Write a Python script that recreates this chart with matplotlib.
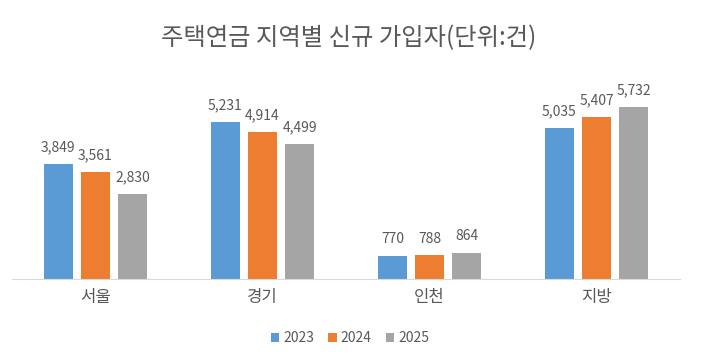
import matplotlib
matplotlib.use("Agg")
import matplotlib.pyplot as plt
import numpy as np

plt.rcParams['font.family'] = ['Noto Sans CJK KR', 'DejaVu Sans']

# data
regions = ['서울', '경기', '인천', '지방']
years = ['2023', '2024', '2025']
v2023 = [3849, 5231, 770, 5035]
v2024 = [3561, 4914, 788, 5407]
v2025 = [2830, 4499, 864, 5732]
title = '주택연금 지역별 신규 가입자(단위:건)'

colors = ['#5B9BD5', '#ED7D31', '#A5A5A5']
txt = '#595959'

fig = plt.figure(figsize=(7.08, 3.62), dpi=100)
ax = fig.add_axes([12/708, 1-279/362, 668/708, 210/362])

x = np.arange(len(regions))
w = 0.175
step = 0.222
for i, (vals, yr) in enumerate(zip([v2023, v2024, v2025], years)):
    pos = x + (i - 1) * step
    bars = ax.bar(pos, vals, w, color=colors[i], label=yr, zorder=2)
    for b, v in zip(bars, vals):
        ax.annotate(f'{v:,}', (b.get_x() + b.get_width()/2, v),
                    xytext=(0, 7), textcoords='offset points',
                    ha='center', va='bottom', fontsize=10, color=txt)

ax.set_xlim(-0.5, len(regions) - 0.5)
ax.set_ylim(0, 7000)
ax.set_xticks(x)
ax.set_xticklabels(regions, fontsize=12, color=txt)
ax.tick_params(axis='x', length=0, pad=7)
ax.set_yticks([])
for s in ['top', 'right', 'left']:
    ax.spines[s].set_visible(False)
ax.spines['bottom'].set_color('#D9D9D9')

fig.text(349/708, 1-38/362, title, ha='center', va='center', fontsize=17.5, color=txt)

fig.legend(loc='center', bbox_to_anchor=(350/708, 1-338/362), ncol=3, frameon=False,
           fontsize=10, labelcolor=txt, handlelength=0.6, handleheight=0.6,
           handletextpad=0.3, columnspacing=1.0)

fig.savefig('out.png', dpi=100)
